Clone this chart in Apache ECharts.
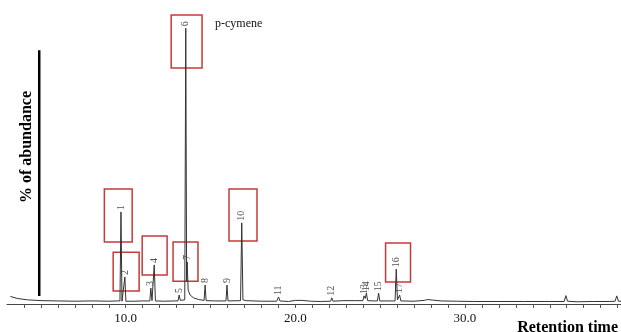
<!DOCTYPE html>
<html>
<head>
<meta charset="utf-8">
<script src="https://cdn.jsdelivr.net/npm/echarts@6/dist/echarts.min.js"></script>
<style>html,body{margin:0;padding:0;background:#fff}#c{width:621px;height:332px}</style>
</head>
<body>
<div id="c"></div>
<script>
// Chromatogram trace (retention time in min, % abundance)
var traceTime = [3.2,3.6,4.2,5,6,7,8,9,9.5,
  9.66,9.72,9.78, 9.89,9.95,10.01, 10.5,11.0,
  11.42,11.48,11.55, 11.61,11.68,11.75, 12.3,12.9,
  13.08,13.15,13.22, 13.48,13.54,13.59, 13.62,13.68,13.8,14.0,14.3,
  14.62,14.68,14.74, 15.3, 15.91,15.97,16.03, 16.77,16.84,16.91,17.1,
  18,18.9, 18.93,19.01,19.09, 19.6,20.0,20.4,20.9,21.5,
  22.08,22.15,22.22, 22.8,23.5, 23.98,24.05,24.12,24.19,24.26, 24.6,
  24.84,24.91,24.98, 25.88,25.95,26.02, 26.08,26.15,26.22,
  27,27.6,27.8,28.1,28.6,29.5,30.5,32,33.5,35,35.85,35.95,36.05,36.6,37.5,38.5,38.85,38.95,39.05,39.2];
var traceAbundance = [2.7,2.0,1.5,1.2,1.1,1.0,1.1,1.0,1.1,
  1.1,33.0,1.0, 1.0,9.7,1.0, 1.0,1.1,
  1.1,5.7,1.2, 1.2,14.0,1.1, 1.0,1.1,
  1.1,3.2,1.3, 1.5,98.9,8.0, 15.1,5.0,3.2,2.2,1.6,
  1.3,6.8,1.2, 1.1, 1.1,6.8,1.1, 1.2,29.1,1.5,1.2,
  1.0,1.0, 1.0,2.5,1.1, 0.9,1.3,1.3,1.0,0.9,
  1.0,2.2,1.0, 1.2,1.2, 1.2,2.9,2.0,3.9,1.2, 1.1,
  1.1,3.9,1.1, 1.1,12.5,1.5, 1.4,3.2,1.1,
  1.0,1.3,1.6,1.4,1.1,1.0,0.9,0.9,0.9,0.9,0.9,3.0,1.0,0.8,0.9,0.9,1.0,2.9,1.0,1.0];

// Numbered peaks
var peakLabels = ['1','2','3','4','5','6','7','8','9','10','11','12','13','14','15','16','17'];
var peakTimes = [9.72,9.95,11.48,11.68,13.15,13.54,13.62,14.68,15.97,16.84,19.01,22.15,24.05,24.19,24.91,25.95,26.15];
var peakHeights = [33.0,9.7,5.7,14.0,3.2,98.9,15.1,6.8,6.8,29.1,2.5,2.2,2.9,3.9,3.9,12.5,3.2];

// Highlighted peaks (red boxes): time range and abundance range
var boxT0 = [8.74,9.26,10.97,12.68,12.79,16.09,25.32];
var boxT1 = [10.38,10.79,12.44,14.50,14.26,17.74,26.79];
var boxV0 = [22.2,4.7,10.4,84.6,8.2,22.6,7.9];
var boxV1 = [41.2,18.6,24.4,103.6,22.2,41.2,21.9];

// Vertical abundance bar
var barTime = [4.9,4.9];
var barValue = [2.9,91.0];

var xTickLabels = [10,20,30];

var chart = echarts.init(document.getElementById('c'), null, {renderer:'canvas'});
var serif = 'Liberation Serif';

var trace = traceTime.map(function(t,i){return [t, traceAbundance[i]];});
var peaks = peakTimes.map(function(t,i){return {value:[t, peakHeights[i]], name:peakLabels[i]};});
var boxes = boxT0.map(function(t,i){return [{coord:[t, boxV0[i]]},{coord:[boxT1[i], boxV1[i]]}];});
var bar = barTime.map(function(t,i){return [t, barValue[i]];});

chart.setOption({
  animation:false,
  backgroundColor:'#fff',
  grid:{left:7, right:0, top:14, bottom:28},
  xAxis:{
    type:'value', min:3, max:39.2, interval:1,
    axisLine:{show:true, lineStyle:{color:'#444', width:1}},
    axisTick:{show:true, length:4, lineStyle:{color:'#555'}},
    splitLine:{show:false},
    axisLabel:{
      margin:8, color:'#111', fontFamily:serif, fontSize:13,
      showMaxLabel:false, showMinLabel:false,
      formatter:function(v){return xTickLabels.indexOf(Math.round(v))>=0 && Math.abs(v-Math.round(v))<1e-6 ? v.toFixed(1) : '';}
    }
  },
  yAxis:{type:'value', min:0, max:104, show:false},
  graphic:[
    {type:'text', left:19, top:91, rotation:Math.PI/2, style:{text:'% of abundance', font:'bold 16px "Liberation Serif"', fill:'#000'}},
    {type:'text', right:3, bottom:-4, style:{text:'Retention time', font:'bold 16px "Liberation Serif"', fill:'#000'}},
    {type:'text', left:215, top:18, style:{text:'p-cymene', font:'12px "Liberation Serif"', fill:'#111'}}
  ],
  series:[
    {
      type:'line', data:trace, showSymbol:false, symbol:'none',
      lineStyle:{color:'#333', width:1}, silent:true,
      markArea:{silent:true, label:{show:false},
        itemStyle:{color:'rgba(0,0,0,0)', borderColor:'#c63a3a', borderWidth:1.5},
        data:boxes}
    },
    {
      type:'line', data:bar, showSymbol:false, symbol:'none',
      lineStyle:{color:'#000', width:2.5}, silent:true
    },
    {
      type:'scatter', data:peaks, symbolSize:0, silent:true,
      label:{show:true, position:'top', distance:2, rotate:90, align:'left', verticalAlign:'middle',
        formatter:'{b}', fontFamily:serif, fontSize:10, color:'#222'}
    }
  ]
});
</script>
</body>
</html>
